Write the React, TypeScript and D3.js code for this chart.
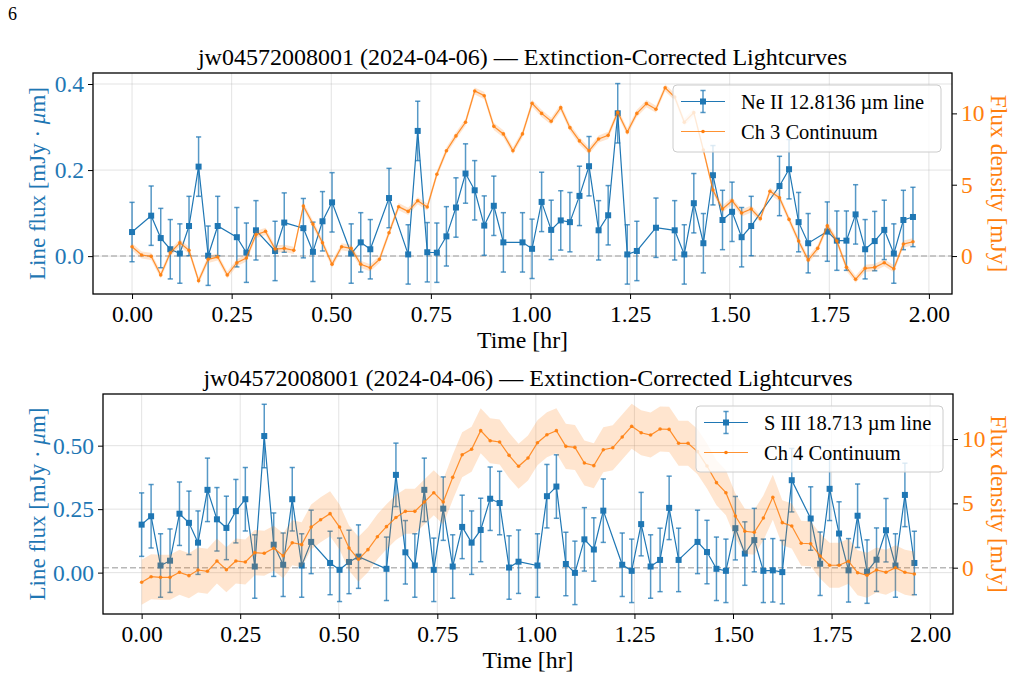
import { useEffect, useRef } from 'react';
import * as d3 from 'd3';

// exposure mid-times [hr], shared by both channels
const times = [
  0.000, 0.024, 0.048, 0.072, 0.096, 0.120, 0.143, 0.167, 0.191, 0.215,
  0.239, 0.263, 0.287, 0.311, 0.335, 0.359, 0.382, 0.406, 0.430, 0.454,
  0.478, 0.502, 0.526, 0.550, 0.574, 0.598, 0.621, 0.645, 0.669, 0.693,
  0.717, 0.741, 0.765, 0.789, 0.813, 0.837, 0.860, 0.884, 0.908, 0.932,
  0.956, 0.980, 1.004, 1.028, 1.052, 1.076, 1.099, 1.123, 1.147, 1.171,
  1.195, 1.219, 1.243, 1.267, 1.291, 1.315, 1.338, 1.362, 1.386, 1.410,
  1.434, 1.458, 1.482, 1.506, 1.530, 1.554, 1.577, 1.601, 1.625, 1.649,
  1.673, 1.697, 1.721, 1.745, 1.769, 1.793, 1.816, 1.840, 1.864, 1.888,
  1.912, 1.936, 1.960,
];

// Ne II line flux [mJy um] (null = no fit)
const neIIFlux = [
  0.056, null, 0.094, 0.042, 0.016, 0.006, 0.070, 0.208, 0.001, 0.070,
  null, 0.044, 0.008, 0.060, null, 0.012, 0.078, null, 0.065, 0.010,
  0.081, 0.125, null, 0.006, 0.032, 0.016, null, 0.135, null, 0.004,
  0.291, 0.009, 0.008, 0.046, 0.113, 0.192, 0.153, 0.071, 0.117, 0.032,
  null, 0.032, 0.017, 0.126, 0.061, 0.083, 0.079, 0.140, 0.209, 0.060,
  0.095, 0.332, 0.004, 0.012, null, 0.066, null, 0.060, 0.004, 0.123,
  0.030, 0.188, 0.084, 0.103, 0.044, 0.070, null, null, 0.163, 0.202,
  0.079, 0.030, null, 0.057, 0.036, 0.036, 0.097, 0.016, 0.035, 0.061,
  0.006, 0.084, 0.091,
];
const neIIErr = 0.069;

// Ch 3 continuum [mJy]
const ch3Flux = [
  0.65, 0.07, -0.02, -1.33, 0.23, 0.93, 0.40, -1.73, -0.23, -0.07,
  -1.33, -0.47, -0.14, 1.50, 1.73, 0.49, 0.54, 0.40, 3.51, 2.24,
  0.93, -0.58, 0.65, 0.54, -0.58, -0.82, -0.23, 1.63, 3.46, 3.13,
  3.88, 3.44, 5.73, 7.38, 8.42, 9.38, 11.57, 11.24, 9.09, 8.56,
  7.38, 8.56, 10.71, 10.00, 9.45, 10.40, 9.00, 8.07, 7.38, 8.20,
  8.46, 10.08, 8.70, 10.00, 10.68, 10.29, 11.80, 11.15, 9.38, 10.05,
  7.43, 4.63, 3.30, 3.88, 3.02, 3.30, 2.62, 4.54, 4.09, 2.57,
  1.05, -0.28, 0.54, 2.12, 1.05, -0.79, -1.63, -0.86, -0.79, -0.47,
  -0.89, 0.84, 1.00,
];
const ch3Err = 0.25;

// S III line flux [mJy um]
const sIIIFlux = [
  0.189, 0.222, 0.028, 0.047, 0.232, 0.196, 0.118, 0.326, 0.210, 0.176,
  0.242, 0.289, 0.024, 0.538, 0.110, 0.031, 0.289, 0.028, 0.121, null,
  0.038, 0.011, 0.042, 0.063, null, null, 0.015, 0.385, 0.080, 0.028,
  0.326, 0.011, 0.252, 0.024, 0.180, 0.118, 0.168, 0.291, 0.274, 0.020,
  0.043, null, 0.028, 0.301, 0.339, 0.034, -0.001, 0.131, 0.091, 0.244,
  null, 0.031, 0.007, 0.191, 0.024, 0.050, 0.255, 0.050, null, 0.121,
  0.081, 0.015, 0.007, 0.175, 0.075, 0.128, 0.007, 0.009, 0.002, 0.364,
  null, 0.213, 0.035, 0.330, 0.154, 0.009, 0.224, 0.004, 0.051, 0.167,
  0.028, 0.306, 0.038,
];
const sIIIErr = 0.125;

// Ch 4 continuum [mJy]
const ch4Flux = [
  -1.13, -0.70, -0.75, -0.75, -0.36, -0.62, -0.18, -0.28, 0.52, -0.16,
  0.52, 0.44, 1.17, 1.12, 1.51, 0.93, 1.94, 1.79, 3.16, 3.73,
  4.20, 3.16, 1.53, 0.65, 1.40, 2.41, 3.19, 3.90, 4.38, 4.38,
  5.10, 5.83, 5.10, 7.02, 8.78, 9.20, 10.65, 9.87, 9.77, 8.73,
  7.88, 8.52, 9.71, 10.33, 10.65, 9.43, 9.35, 8.14, 7.93, 9.17,
  9.32, 10.16, 10.99, 10.49, 10.31, 10.78, 10.75, 9.67, 9.67, 9.02,
  7.90, 6.61, 5.83, 4.02, 2.83, 2.75, 3.86, 5.47, 3.50, 3.24,
  1.90, 1.86, 0.91, 0.19, 0.19, 0.50, -0.39, -0.59, -0.18, -0.36,
  0.00, -0.36, -0.49,
];
const ch4Err = 1.75;

const timeTicks = [0, 0.25, 0.5, 0.75, 1.0, 1.25, 1.5, 1.75, 2.0];
const neIITicks = [0, 0.2, 0.4];
const sIIITicks = [0, 0.25, 0.5];
const contTicks = [0, 5, 10];

const BLUE = '#1f77b4';
const ORANGE = '#ff7f0e';
const FONT = '"Liberation Serif", "Times New Roman", serif';
const TITLE = 'jw04572008001 (2024-04-06) \u2014 Extinction-Corrected Lightcurves';

const panels = [
  {
    id: 'ch3', line: neIIFlux, lineErr: neIIErr, cont: ch3Flux, contErr: ch3Err,
    lineName: 'Ne II 12.8136 \u00b5m line', contName: 'Ch 3 Continuum',
    left: 93, right: 952, top: 73, bottom: 294,
    yLeft: [-0.088, 0.4256], yRight: [-2.66, 12.83],
    leftTicks: neIITicks, leftFmt: '.1f',
    legend: { x: 673, y: 85, w: 268, h: 67 },
  },
  {
    id: 'ch4', line: sIIIFlux, lineErr: sIIIErr, cont: ch4Flux, contErr: ch4Err,
    lineName: 'S III 18.713 \u00b5m line', contName: 'Ch 4 Continuum',
    left: 103, right: 953, top: 394, bottom: 614,
    yLeft: [-0.163, 0.7035], yRight: [-3.6, 13.5],
    leftTicks: sIIITicks, leftFmt: '.2f',
    legend: { x: 696, y: 406, w: 247, h: 66 },
  },
];

function drawPanel(root, p) {
  const x = d3.scaleLinear().domain([-0.098, 2.058]).range([p.left, p.right]);
  const yL = d3.scaleLinear().domain(p.yLeft).range([p.bottom, p.top]);
  const yR = d3.scaleLinear().domain(p.yRight).range([p.bottom, p.top]);
  const g = root.append('g');

  const clipId = `clip-${p.id}`;
  g.append('clipPath').attr('id', clipId).append('rect')
    .attr('x', p.left).attr('y', p.top)
    .attr('width', p.right - p.left).attr('height', p.bottom - p.top);

  // grid
  g.append('g').selectAll('line').data(timeTicks).join('line')
    .attr('x1', (d) => x(d)).attr('x2', (d) => x(d))
    .attr('y1', p.top).attr('y2', p.bottom)
    .attr('stroke', '#b0b0b0').attr('stroke-opacity', 0.35);
  g.append('g').selectAll('line').data(p.leftTicks).join('line')
    .attr('x1', p.left).attr('x2', p.right)
    .attr('y1', (d) => yL(d)).attr('y2', (d) => yL(d))
    .attr('stroke', '#b0b0b0').attr('stroke-opacity', 0.35);

  // zero of the flux density axis
  g.append('line')
    .attr('x1', p.left).attr('x2', p.right)
    .attr('y1', yR(0)).attr('y2', yR(0))
    .attr('stroke', '#b8b8b8').attr('stroke-width', 1.4)
    .attr('stroke-dasharray', '6,3');

  const plot = g.append('g').attr('clip-path', `url(#${clipId})`);

  const linePts = times.map((t, i) => ({ t, v: p.line[i] })).filter((d) => d.v !== null);
  const contPts = times.map((t, i) => ({ t, v: p.cont[i] }));

  // line flux with errorbars
  plot.append('path').datum(linePts)
    .attr('d', d3.line().x((d) => x(d.t)).y((d) => yL(d.v)))
    .attr('fill', 'none').attr('stroke', BLUE).attr('stroke-width', 1.2);

  const eb = plot.append('g').attr('stroke', BLUE).attr('stroke-opacity', 0.75).attr('stroke-width', 1.5);
  eb.selectAll('.bar').data(linePts).join('line').attr('class', 'bar')
    .attr('x1', (d) => x(d.t)).attr('x2', (d) => x(d.t))
    .attr('y1', (d) => yL(d.v - p.lineErr)).attr('y2', (d) => yL(d.v + p.lineErr));
  [-1, 1].forEach((s) => {
    eb.selectAll(`.cap${s}`).data(linePts).join('line').attr('class', `cap${s}`)
      .attr('x1', (d) => x(d.t) - 2.6).attr('x2', (d) => x(d.t) + 2.6)
      .attr('y1', (d) => yL(d.v + s * p.lineErr)).attr('y2', (d) => yL(d.v + s * p.lineErr));
  });

  plot.append('g').selectAll('rect').data(linePts).join('rect')
    .attr('x', (d) => x(d.t) - 3).attr('y', (d) => yL(d.v) - 3)
    .attr('width', 6).attr('height', 6).attr('fill', BLUE);

  // continuum with band
  plot.append('path').datum(contPts)
    .attr('d', d3.area().x((d) => x(d.t))
      .y0((d) => yR(d.v - p.contErr)).y1((d) => yR(d.v + p.contErr)))
    .attr('fill', ORANGE).attr('fill-opacity', 0.2);
  plot.append('path').datum(contPts)
    .attr('d', d3.line().x((d) => x(d.t)).y((d) => yR(d.v)))
    .attr('fill', 'none').attr('stroke', ORANGE).attr('stroke-opacity', 0.85).attr('stroke-width', 1.2);
  plot.append('g').selectAll('circle').data(contPts).join('circle')
    .attr('cx', (d) => x(d.t)).attr('cy', (d) => yR(d.v))
    .attr('r', 1.8).attr('fill', ORANGE).attr('fill-opacity', 0.9);

  // spines
  g.append('rect')
    .attr('x', p.left).attr('y', p.top)
    .attr('width', p.right - p.left).attr('height', p.bottom - p.top)
    .attr('fill', 'none').attr('stroke', 'black').attr('stroke-width', 1.3);

  // axes
  const styleAxis = (ax, color) => {
    ax.attr('font-family', FONT).attr('font-size', 23.5);
    ax.select('.domain').remove();
    ax.selectAll('.tick line').attr('stroke', 'black').attr('stroke-width', 1);
    ax.selectAll('text').attr('fill', color);
  };
  styleAxis(g.append('g').attr('transform', `translate(0,${p.bottom})`)
    .call(d3.axisBottom(x).tickValues(timeTicks).tickFormat(d3.format('.2f')).tickSize(5).tickPadding(6)), 'black');
  styleAxis(g.append('g').attr('transform', `translate(${p.left},0)`)
    .call(d3.axisLeft(yL).tickValues(p.leftTicks).tickFormat(d3.format(p.leftFmt)).tickSize(5).tickPadding(4)), BLUE);
  styleAxis(g.append('g').attr('transform', `translate(${p.right},0)`)
    .call(d3.axisRight(yR).tickValues(contTicks).tickFormat(d3.format('d')).tickSize(5).tickPadding(4)), ORANGE);

  // labels
  const cx = (p.left + p.right) / 2;
  const cy = (p.top + p.bottom) / 2;
  g.append('text').attr('x', cx).attr('y', p.top - 8)
    .attr('text-anchor', 'middle').attr('font-family', FONT).attr('font-size', 24)
    .text(TITLE);
  g.append('text').attr('x', cx).attr('y', p.bottom + 54)
    .attr('text-anchor', 'middle').attr('font-family', FONT).attr('font-size', 23.8)
    .text('Time [hr]');

  const yl = g.append('text')
    .attr('transform', `translate(37,${cy}) rotate(-90)`)
    .attr('text-anchor', 'middle').attr('dominant-baseline', 'central')
    .attr('font-family', FONT).attr('font-size', 23).attr('fill', BLUE);
  yl.append('tspan').text('Line flux [mJy \u00b7 ');
  yl.append('tspan').attr('font-style', 'italic').text('\u03bc');
  yl.append('tspan').text('m]');

  g.append('text')
    .attr('transform', `translate(999,${cy}) rotate(90)`)
    .attr('text-anchor', 'middle').attr('dominant-baseline', 'central')
    .attr('font-family', FONT).attr('font-size', 23.5).attr('fill', ORANGE)
    .text('Flux density [mJy]');

  // legend
  const L = p.legend;
  const lg = g.append('g');
  lg.append('rect').attr('x', L.x).attr('y', L.y).attr('width', L.w).attr('height', L.h)
    .attr('rx', 4).attr('fill', 'white').attr('fill-opacity', 0.8)
    .attr('stroke', '#cccccc').attr('stroke-width', 1);
  const hx0 = L.x + 8;
  const hx1 = L.x + 52;
  const hm = (hx0 + hx1) / 2;
  const e1 = L.y + 16.5;
  const e2 = L.y + 46.5;
  lg.append('line').attr('x1', hx0).attr('x2', hx1).attr('y1', e1).attr('y2', e1)
    .attr('stroke', BLUE).attr('stroke-width', 1.2);
  const lge = lg.append('g').attr('stroke', BLUE).attr('stroke-opacity', 0.75).attr('stroke-width', 1.5);
  lge.append('line').attr('x1', hm).attr('x2', hm).attr('y1', e1 - 11).attr('y2', e1 + 11);
  lge.append('line').attr('x1', hm - 2.6).attr('x2', hm + 2.6).attr('y1', e1 - 11).attr('y2', e1 - 11);
  lge.append('line').attr('x1', hm - 2.6).attr('x2', hm + 2.6).attr('y1', e1 + 11).attr('y2', e1 + 11);
  lg.append('rect').attr('x', hm - 3).attr('y', e1 - 3).attr('width', 6).attr('height', 6).attr('fill', BLUE);
  lg.append('line').attr('x1', hx0).attr('x2', hx1).attr('y1', e2).attr('y2', e2)
    .attr('stroke', ORANGE).attr('stroke-opacity', 0.85).attr('stroke-width', 1.2);
  lg.append('circle').attr('cx', hm).attr('cy', e2).attr('r', 1.8).attr('fill', ORANGE);
  [[p.lineName, e1], [p.contName, e2]].forEach(([t, yy]) => {
    lg.append('text').attr('x', L.x + 68).attr('y', yy)
      .attr('dominant-baseline', 'central')
      .attr('font-family', FONT).attr('font-size', 20.5)
      .text(t);
  });
}

const App = () => {
  const ref = useRef(null);

  useEffect(() => {
    const svg = d3.select(ref.current);
    svg.selectAll('*').remove();
    svg.append('rect').attr('width', 1024).attr('height', 698).attr('fill', 'white');
    svg.append('text').attr('x', 8).attr('y', 20)
      .attr('font-family', FONT).attr('font-size', 18).text('6');
    panels.forEach((p) => drawPanel(svg, p));
  }, []);

  return (
    <svg ref={ref} width={1024} height={698}
      style={{ position: 'absolute', left: 0, top: 0, display: 'block' }} />
  );
};

export default App;
